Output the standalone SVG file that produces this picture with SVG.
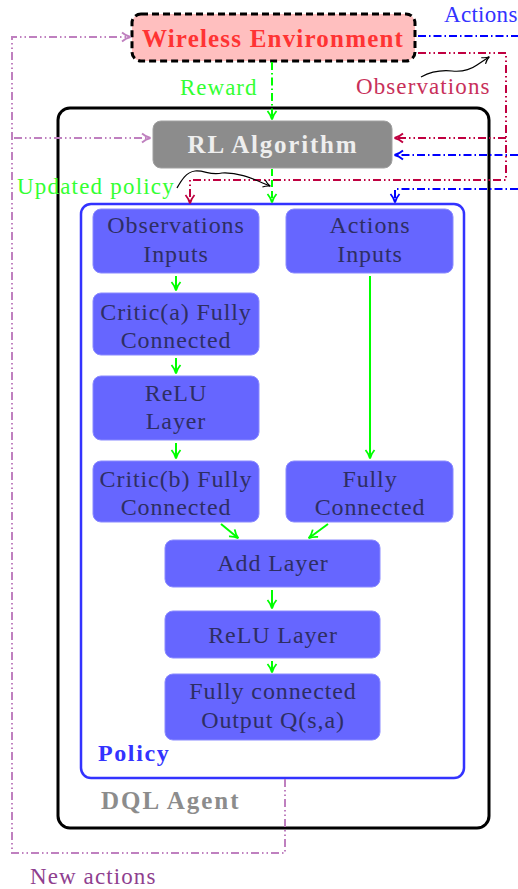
<svg xmlns="http://www.w3.org/2000/svg" width="518" height="889" viewBox="0 0 518 889" font-family="'Liberation Serif', 'DejaVu Serif', 'Noto Serif', 'Times New Roman', serif">
  <style>
    text { font-family: "Liberation Serif", "DejaVu Serif", "Noto Serif", "Times New Roman", serif; }
    .layer rect { fill: #6666ff; stroke: #8a8aff; stroke-width: 1; }
    .layer text { fill: #2e2e63; font-size: 24px; letter-spacing: 0.9px; text-anchor: middle; }
    .flow { fill: none; stroke: #00ff00; stroke-width: 2; marker-end: url(#ahGreen); }
    .dd { stroke-dasharray: 8 3 1.5 3; }
    .ddd { stroke-dasharray: 8 3 1.5 3 1.5 3; }
  </style>
  <defs>
    <marker id="ahGreen" viewBox="0 0 12 12" refX="10" refY="6" markerWidth="12" markerHeight="12" markerUnits="userSpaceOnUse" orient="auto">
      <path d="M2,1.5 Q6,5 10.5,6 Q6,7 2,10.5" fill="none" stroke="#00ff00" stroke-width="1.8"/>
    </marker>
    <marker id="ahBlue" viewBox="0 0 12 12" refX="10" refY="6" markerWidth="12" markerHeight="12" markerUnits="userSpaceOnUse" orient="auto">
      <path d="M2,1.5 Q6,5 10.5,6 Q6,7 2,10.5" fill="none" stroke="#0000ff" stroke-width="1.8"/>
    </marker>
    <marker id="ahCrimson" viewBox="0 0 12 12" refX="10" refY="6" markerWidth="12" markerHeight="12" markerUnits="userSpaceOnUse" orient="auto">
      <path d="M2,1.5 Q6,5 10.5,6 Q6,7 2,10.5" fill="none" stroke="#bf0040" stroke-width="1.8"/>
    </marker>
    <marker id="ahViolet" viewBox="0 0 12 12" refX="10" refY="6" markerWidth="12" markerHeight="12" markerUnits="userSpaceOnUse" orient="auto">
      <path d="M2,1.5 Q6,5 10.5,6 Q6,7 2,10.5" fill="none" stroke="#bf80bf" stroke-width="1.8"/>
    </marker>
    <marker id="ahBlack" viewBox="0 0 12 12" refX="10" refY="6" markerWidth="10" markerHeight="10" markerUnits="userSpaceOnUse" orient="auto">
      <path d="M2,1.5 Q6,5 10.5,6 Q6,7 2,10.5" fill="none" stroke="#000" stroke-width="1.4"/>
    </marker>
  </defs>

  <!-- DQL agent container -->
  <g id="agent">
    <rect x="58" y="108" width="431" height="720" rx="12" fill="#fff" stroke="#000" stroke-width="3"/>
    <text x="101" y="809" font-size="25" font-weight="bold" letter-spacing="2" fill="#8c8c8c">DQL Agent</text>
  </g>

  <!-- policy network container -->
  <g id="policy">
    <rect x="81" y="204" width="383" height="574" rx="10" fill="#fff" stroke="#3333ff" stroke-width="2.5"/>
    <text x="98" y="761" font-size="24" font-weight="bold" letter-spacing="1.6" fill="#3333ff">Policy</text>
  </g>

  <!-- environment -->
  <g id="env">
    <rect x="132" y="14" width="283" height="47" rx="9" fill="#ffbfbf" stroke="#000" stroke-width="3" stroke-dasharray="7 4"/>
    <text x="273" y="47" font-size="25" font-weight="bold" letter-spacing="1.2" fill="#ff3333" text-anchor="middle">Wireless Environment</text>
  </g>

  <!-- RL algorithm -->
  <g id="rl">
    <rect x="153" y="121" width="239" height="47" rx="8" fill="#8c8c8c" stroke="#a0a0a0" stroke-width="1"/>
    <text x="273" y="153" font-size="25" font-weight="bold" letter-spacing="1.8" fill="#eeeeee" text-anchor="middle">RL Algorithm</text>
  </g>

  <!-- network layers -->
  <g id="obs-in" class="layer">
    <rect x="93" y="209" width="166" height="64" rx="8"/>
    <text x="176" y="233">Observations</text>
    <text x="176" y="262">Inputs</text>
  </g>
  <g id="act-in" class="layer">
    <rect x="286" y="209" width="167" height="64" rx="8"/>
    <text x="370" y="233">Actions</text>
    <text x="370" y="262">Inputs</text>
  </g>
  <g id="critic-a" class="layer">
    <rect x="93" y="293" width="166" height="62" rx="8"/>
    <text x="176" y="320">Critic(a) Fully</text>
    <text x="176" y="348">Connected</text>
  </g>
  <g id="relu-1" class="layer">
    <rect x="93" y="376" width="166" height="64" rx="8"/>
    <text x="176" y="401">ReLU</text>
    <text x="176" y="429">Layer</text>
  </g>
  <g id="critic-b" class="layer">
    <rect x="93" y="461" width="166" height="61" rx="8"/>
    <text x="176" y="487">Critic(b) Fully</text>
    <text x="176" y="515">Connected</text>
  </g>
  <g id="act-fc" class="layer">
    <rect x="286" y="461" width="167" height="61" rx="8"/>
    <text x="370" y="487">Fully</text>
    <text x="370" y="515">Connected</text>
  </g>
  <g id="add" class="layer">
    <rect x="165" y="540" width="215" height="47" rx="8"/>
    <text x="273" y="571">Add Layer</text>
  </g>
  <g id="relu-2" class="layer">
    <rect x="165" y="611" width="215" height="47" rx="8"/>
    <text x="273" y="643">ReLU Layer</text>
  </g>
  <g id="out" class="layer">
    <rect x="165" y="674" width="215" height="66" rx="8"/>
    <text x="273" y="699">Fully connected</text>
    <text x="273" y="728">Output Q(s,a)</text>
  </g>

  <!-- connectors -->
  <g id="connectors">
    <!-- layer flow -->
    <path class="flow" d="M176,276 V290"/>
    <path class="flow" d="M176,358 V373"/>
    <path class="flow" d="M176,443 V458"/>
    <path class="flow" d="M370,276 V458"/>
    <path class="flow" d="M221,524 L238,538"/>
    <path class="flow" d="M328,524 L309,538"/>
    <path class="flow" d="M272,590 V608"/>
    <path class="flow" d="M272,661 V672"/>

    <!-- reward and policy update -->
    <path class="dd" d="M272,62 V119" fill="none" stroke="#00ff00" stroke-width="2" marker-end="url(#ahGreen)"/>
    <path d="M272,169 V202" fill="none" stroke="#00ff00" stroke-width="2" stroke-dasharray="7 4" marker-end="url(#ahGreen)"/>

    <!-- actions -->
    <path class="dd" d="M418,36 H518" fill="none" stroke="#0000ff" stroke-width="2"/>
    <path class="dd" d="M518,155 H395" fill="none" stroke="#0000ff" stroke-width="2" marker-end="url(#ahBlue)"/>
    <path class="dd" d="M518,189 H395 V202" fill="none" stroke="#0000ff" stroke-width="2" marker-end="url(#ahBlue)"/>

    <!-- observations -->
    <path class="ddd" d="M418,53 H506 V180 H190 V203" fill="none" stroke="#bf0040" stroke-width="2" marker-end="url(#ahCrimson)"/>
    <path class="ddd" d="M506,138 H395" fill="none" stroke="#bf0040" stroke-width="2" marker-end="url(#ahCrimson)"/>

    <!-- new actions -->
    <path class="ddd" d="M285,779 V853 H12 V37 H130" fill="none" stroke="#bf80bf" stroke-width="2" marker-end="url(#ahViolet)"/>
    <path class="ddd" d="M14,138 H150" fill="none" stroke="#bf80bf" stroke-width="2" marker-end="url(#ahViolet)"/>

    <!-- label pointers -->
    <path d="M421,77 C432,71 442,70 452,71 C462,72 470,70 477,65 L489,57" fill="none" stroke="#000" stroke-width="1.2" marker-end="url(#ahBlack)"/>
    <path d="M177,188 C181,181 186,172 195,171 C205,170 210,176 222,173 C240,172 255,180 270,186" fill="none" stroke="#000" stroke-width="1.2" marker-end="url(#ahBlack)"/>
  </g>

  <!-- free labels -->
  <g id="labels">
    <text x="444" y="22" font-size="23" letter-spacing="0.3" fill="#3333ff">Actions</text>
    <text x="180" y="95" font-size="23" letter-spacing="1" fill="#33ff33">Reward</text>
    <text x="356" y="94" font-size="23" letter-spacing="1.1" fill="#c8305a">Observations</text>
    <text x="17" y="194" font-size="23" letter-spacing="1.2" fill="#33ff33">Updated policy</text>
    <text x="30" y="884" font-size="23" letter-spacing="1.1" fill="#8f3f8f">New actions</text>
  </g>
</svg>
